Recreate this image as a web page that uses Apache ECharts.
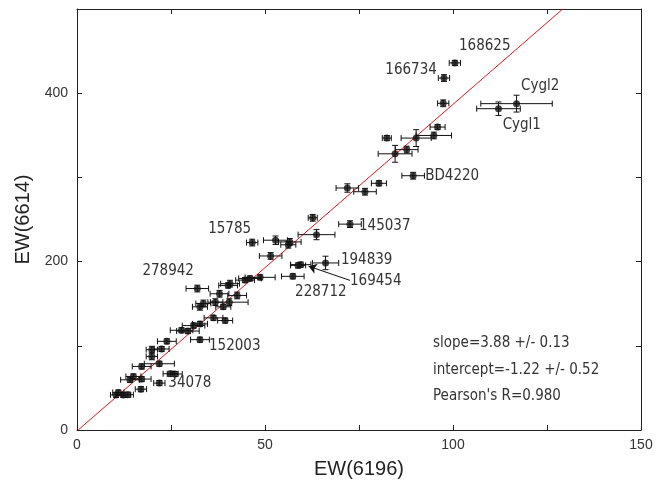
<!DOCTYPE html>
<html>
<head>
<meta charset="utf-8">
<script src="https://cdn.jsdelivr.net/npm/echarts@6/dist/echarts.min.js"></script>
<style>
html, body { margin: 0; padding: 0; background: #fff; }
#chart { width: 661px; height: 487px; }
</style>
</head>
<body>
<div id="chart"></div>
<script>
// EW(6196) vs EW(6614) with errors
var ewX  = [100.5, 97.6, 97.4, 116.9, 112.1, 95.9, 94.9, 82.4, 90.2, 87.7, 84.6, 89.4, 80.3, 71.9, 76.6,
            62.7, 72.6, 63.7, 46.6, 52.8, 56.6, 56.2, 51.5, 66.1, 59.5, 58.8, 57.4, 48.7, 46.0, 44.7,
            40.7, 40.2, 32.0, 37.9, 42.6, 33.6, 32.7, 36.8, 40.5, 38.9, 36.3, 39.4, 32.7, 31.0, 27.8,
            29.5, 32.7, 23.9, 22.5, 19.9, 19.9, 17.2, 21.9, 15.0, 14.1, 17.2, 21.9, 24.9, 26.0, 17.0,
            11.0, 12.3, 10.4, 13.5];
var ewY  = [436, 418, 388, 387.6, 381.6, 359.8, 349.8, 346.7, 346.7, 333, 328, 302, 293, 287.4, 283,
            252, 244.5, 232, 222.6, 225.4, 223.4, 220, 206.7, 198.4, 196.4, 195.5, 182.5, 181.3, 180, 178,
            173.8, 171.7, 168, 161.8, 159.8, 150.3, 146.3, 151.8, 151.8, 146.3, 133.2, 130, 126, 124, 118.4,
            117.5, 107.3, 105.3, 96.2, 95.4, 87.4, 75.5, 78.7, 63.6, 59.6, 60.5, 55.7, 66.8, 66.5, 48.5,
            44.5, 41.7, 41.7, 42];
var errX = [1.5, 1.5, 1.5, 9.5, 5.8, 2, 4.7, 1.2, 4, 3, 4.5, 3, 2, 3, 3,
            1.2, 3, 4.9, 1.5, 3.2, 3, 2, 3, 3.5, 2.7, 2, 3, 4, 3, 2.5,
            2.5, 2.5, 3, 2.5, 2.5, 2, 2, 2, 5, 2, 2.5, 2, 2, 3, 3,
            3, 2.5, 2.5, 2, 1.5, 1.5, 2.5, 4, 2, 2.5, 2.5, 1.5, 2, 2, 1.5,
            1.5, 2, 1.5, 1.5];
var errY = [3, 4, 4, 10, 8, 3, 4, 3, 10, 4, 10, 4, 3, 5, 4,
            4, 4, 6, 4, 5, 4, 4, 4, 8, 3, 3, 3, 3, 3, 3,
            4, 3, 4, 4, 4, 4, 4, 4, 4, 3, 3, 3, 3, 3, 3,
            3, 3, 3, 3, 4, 4, 3, 3, 3, 3, 3, 3, 3, 3, 3,
            3, 3, 3, 3];

// star names written next to points
var starNames  = ['168625', '166734', 'Cygl2', 'Cygl1', 'BD4220', '145037', '15785', '194839', '169454', '228712', '278942', '152003', '34078'];
var starLabelX = [101.6, 95.7, 118.1, 113.2, 92.6, 75.0, 46.3, 70.2, 72.6, 58.0, 31.1, 35.1, 24.3];
var starLabelY = [455.6, 427, 407.9, 361.7, 301, 242, 238.5, 201.9, 176.9, 163.4, 188.4, 100.2, 56];
var starAlign  = ['left', 'right', 'left', 'left', 'left', 'left', 'right', 'left', 'left', 'left', 'right', 'left', 'left'];

// linear fit
var fitSlope = 3.88;
var fitIntercept = -1.22;
var fitText = ['slope=3.88 +/- 0.13', 'intercept=-1.22 +/- 0.52', "Pearson's R=0.980"];

var xMax = 150, yMax = 500;
var narrow = "'Liberation Sans Narrow', 'DejaVu Sans Condensed', sans-serif";

var points = [], labels = [];
for (var i = 0; i < ewX.length; i++) {
    points.push([ewX[i], ewY[i], errX[i], errY[i]]);
}
for (var j = 0; j < starNames.length; j++) {
    labels.push([starLabelX[j], starLabelY[j], starNames[j], starAlign[j]]);
}
var fitLine = [[-fitIntercept / fitSlope, 0], [(yMax - fitIntercept) / fitSlope, yMax]];

function renderErr(params, api) {
    var x = api.value(0), y = api.value(1), ex = api.value(2), ey = api.value(3);
    var l = api.coord([x - ex, y]), r = api.coord([x + ex, y]);
    var t = api.coord([x, y + ey]), b = api.coord([x, y - ey]);
    var cap = 3;
    var st = { stroke: '#111', lineWidth: 1 };
    function ln(x1, y1, x2, y2) {
        return { type: 'line', shape: { x1: x1, y1: y1, x2: x2, y2: y2 }, style: st };
    }
    return {
        type: 'group',
        children: [
            ln(l[0], l[1], r[0], r[1]),
            ln(l[0], l[1] - cap, l[0], l[1] + cap),
            ln(r[0], r[1] - cap, r[0], r[1] + cap),
            ln(t[0], t[1], b[0], b[1]),
            ln(t[0] - cap, t[1], t[0] + cap, t[1]),
            ln(b[0] - cap, b[1], b[0] + cap, b[1])
        ]
    };
}

function renderLabel(params, api) {
    var p = api.coord([api.value(0), api.value(1)]);
    return {
        type: 'text',
        x: p[0], y: p[1],
        style: {
            text: labels[params.dataIndex][2],
            align: labels[params.dataIndex][3],
            verticalAlign: 'middle',
            font: '15px ' + narrow,
            fill: '#333'
        }
    };
}

var axisCol = '#222';
function xAx(pos, show) {
    return {
        type: 'value', position: pos, min: 0, max: xMax, interval: 25,
        axisLine: { show: true, onZero: false, lineStyle: { color: axisCol, width: 1 } },
        axisTick: { show: true, inside: true, length: 5, lineStyle: { color: axisCol } },
        axisLabel: {
            show: show, margin: 8, color: '#333', fontSize: 14, fontFamily: 'Arial, Liberation Sans',
            formatter: function (v) { return v % 50 === 0 ? String(v) : ''; }
        },
        splitLine: { show: false },
        name: show ? 'EW(6196)' : '', nameLocation: 'middle', nameGap: 29,
        nameTextStyle: { color: '#222', fontSize: 20, fontFamily: 'Arial, Liberation Sans' }
    };
}
function yAx(pos, show) {
    return {
        type: 'value', position: pos, min: 0, max: yMax, interval: 100,
        axisLine: { show: true, onZero: false, lineStyle: { color: axisCol, width: 1 } },
        axisTick: { show: true, inside: true, length: 5, lineStyle: { color: axisCol } },
        axisLabel: {
            show: show, margin: 9, color: '#333', fontSize: 14, fontFamily: 'Arial, Liberation Sans',
            formatter: function (v) { return (v % 200 === 0 && v < yMax) ? String(v) : ''; }
        },
        splitLine: { show: false },
        name: show ? 'EW(6614)' : '', nameLocation: 'middle', nameGap: 43,
        nameTextStyle: { color: '#222', fontSize: 20, fontFamily: 'Arial, Liberation Sans' }
    };
}

var chart = echarts.init(document.getElementById('chart'));
var option = {
    animation: false,
    backgroundColor: '#fff',
    grid: { left: 77, right: 20, top: 9, bottom: 57 },
    xAxis: [xAx('bottom', true), xAx('top', false)],
    yAxis: [yAx('left', true), yAx('right', false)],
    graphic: fitText.map(function (s, k) {
        return {
            type: 'text', left: 433, top: 336 + k * 26.5,
            style: { text: s, font: '15px ' + narrow, fill: '#333' }
        };
    }),
    series: [
        {
            type: 'line', data: fitLine, showSymbol: false, symbol: 'none',
            lineStyle: { color: '#e8141c', width: 1 }, z: 1, silent: true
        },
        {
            type: 'custom', data: points, renderItem: renderErr, z: 2, silent: true,
            encode: { x: 0, y: 1 }
        },
        {
            type: 'scatter', data: points, symbol: 'circle', symbolSize: 7,
            itemStyle: { color: '#111' }, z: 3,
            markLine: {
                silent: true, symbol: ['none', 'arrow'], symbolSize: 8,
                label: { show: false },
                lineStyle: { color: '#111', width: 1, type: 'solid' },
                data: [[{ coord: [72.6, 177.7] }, { coord: [61.6, 194.5] }]]
            }
        },
        {
            type: 'custom', data: labels, renderItem: renderLabel, z: 4, silent: true,
            encode: { x: 0, y: 1 }
        }
    ]
};
chart.setOption(option);
</script>
</body>
</html>
